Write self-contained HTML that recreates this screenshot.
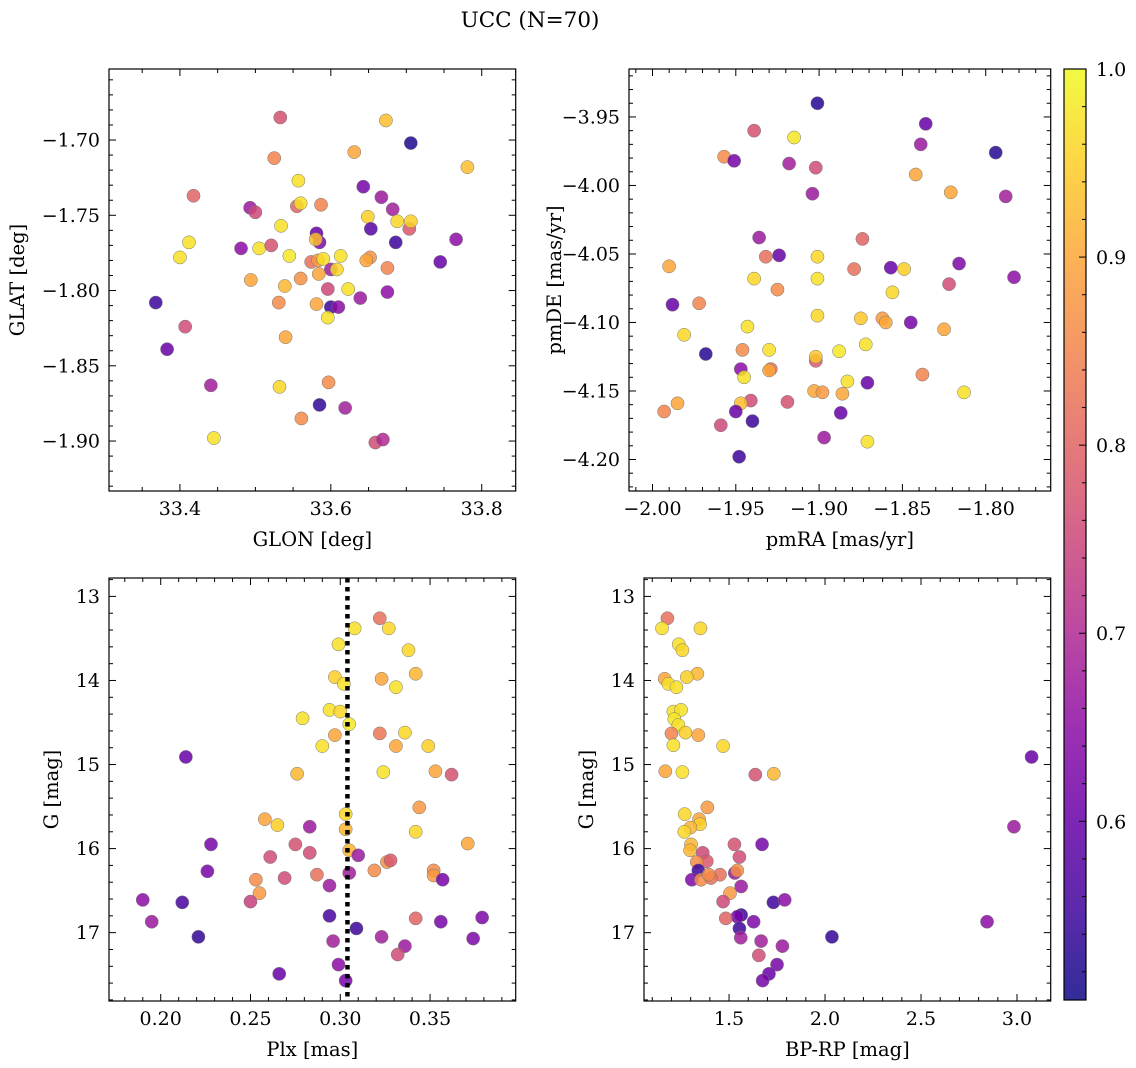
<!DOCTYPE html>
<html><head><meta charset="utf-8"><style>
body{margin:0;background:#fff;}
svg{display:block;font-family:"DejaVu Serif","Liberation Serif",serif;}
</style></head><body>
<svg id="fig" width="1136" height="1068" viewBox="0 0 1136 1068" xmlns="http://www.w3.org/2000/svg">
<defs><linearGradient id="cbg" x1="0" y1="1" x2="0" y2="0"></linearGradient></defs>
<text x="530" y="27" font-size="21.5" text-anchor="middle">UCC (N=70)</text>
</svg>
<script>
// ---- data ----
const glon=[33.533,33.673,33.706,33.525,33.631,33.781,33.557,33.418,33.643,33.667,33.682,33.493,33.500,33.555,33.560,33.587,33.649,33.688,33.704,33.706,33.534,33.653,33.581,33.585,33.580,33.686,33.766,33.412,33.400,33.481,33.505,33.521,33.545,33.574,33.583,33.590,33.613,33.652,33.647,33.745,33.600,33.608,33.675,33.584,33.494,33.560,33.539,33.596,33.623,33.675,33.368,33.531,33.581,33.639,33.600,33.610,33.596,33.407,33.383,33.540,33.441,33.532,33.597,33.585,33.619,33.561,33.445,33.659,33.669];
const glat=[-1.685,-1.687,-1.702,-1.712,-1.708,-1.718,-1.727,-1.737,-1.731,-1.738,-1.746,-1.745,-1.748,-1.744,-1.742,-1.743,-1.751,-1.754,-1.759,-1.754,-1.757,-1.759,-1.762,-1.768,-1.766,-1.768,-1.766,-1.768,-1.778,-1.772,-1.772,-1.770,-1.777,-1.781,-1.780,-1.779,-1.777,-1.778,-1.780,-1.781,-1.786,-1.786,-1.785,-1.789,-1.793,-1.792,-1.797,-1.799,-1.799,-1.801,-1.808,-1.808,-1.809,-1.805,-1.811,-1.811,-1.818,-1.824,-1.839,-1.831,-1.863,-1.864,-1.861,-1.876,-1.878,-1.885,-1.898,-1.901,-1.899];
const prob1=[.77,.93,.52,.85,.9,.93,.97,.8,.62,.67,.68,.67,.75,.8,.97,.85,.95,.96,.78,.95,.97,.58,.6,.63,.93,.55,.65,.97,.97,.65,.97,.77,.98,.82,.88,.97,.97,.87,.9,.6,.68,.96,.85,.9,.9,.87,.92,.75,.97,.65,.55,.86,.9,.67,.55,.65,.97,.76,.6,.9,.68,.96,.86,.54,.68,.86,.97,.76,.7];
const pmra=[-1.901,-1.836,-1.939,-1.915,-1.839,-1.794,-1.957,-1.951,-1.918,-1.902,-1.842,-1.821,-1.904,-1.788,-1.936,-1.874,-1.924,-1.932,-1.901,-1.990,-1.879,-1.857,-1.849,-1.816,-1.939,-1.901,-1.925,-1.856,-1.822,-1.783,-1.988,-1.972,-1.901,-1.875,-1.862,-1.860,-1.845,-1.981,-1.943,-1.825,-1.968,-1.946,-1.930,-1.888,-1.872,-1.902,-1.902,-1.947,-1.929,-1.930,-1.945,-1.883,-1.871,-1.838,-1.903,-1.898,-1.886,-1.813,-1.993,-1.985,-1.941,-1.947,-1.950,-1.919,-1.940,-1.887,-1.959,-1.897,-1.871,-1.948];
const pmde=[-3.940,-3.955,-3.960,-3.965,-3.970,-3.976,-3.979,-3.982,-3.984,-3.987,-3.992,-4.005,-4.006,-4.008,-4.038,-4.039,-4.051,-4.052,-4.052,-4.059,-4.061,-4.060,-4.061,-4.057,-4.068,-4.068,-4.076,-4.078,-4.072,-4.067,-4.087,-4.086,-4.095,-4.097,-4.097,-4.100,-4.100,-4.109,-4.103,-4.105,-4.123,-4.120,-4.120,-4.121,-4.116,-4.128,-4.125,-4.134,-4.134,-4.135,-4.140,-4.143,-4.144,-4.138,-4.150,-4.151,-4.152,-4.151,-4.165,-4.159,-4.157,-4.159,-4.165,-4.158,-4.172,-4.166,-4.175,-4.184,-4.187,-4.198];
const prob2=[.53,.6,.77,.98,.67,.53,.86,.62,.68,.76,.9,.9,.67,.68,.67,.8,.6,.82,.96,.9,.82,.6,.95,.63,.96,.97,.86,.96,.76,.65,.6,.85,.96,.94,.88,.9,.62,.96,.97,.9,.53,.86,.97,.98,.97,.78,.94,.65,.82,.9,.97,.97,.6,.85,.9,.88,.9,.97,.85,.9,.76,.93,.6,.77,.55,.6,.75,.67,.97,.55];
const plx=[.322,.308,.327,.299,.338,.323,.342,.297,.302,.331,.294,.300,.305,.279,.297,.322,.336,.290,.331,.349,.214,.276,.324,.353,.362,.344,.303,.258,.265,.283,.303,.342,.228,.275,.283,.261,.305,.310,.371,.326,.328,.226,.253,.269,.287,.305,.319,.352,.352,.357,.294,.255,.190,.212,.250,.195,.294,.309,.342,.356,.379,.221,.296,.323,.336,.374,.332,.299,.266,.303];
const gmag3=[13.26,13.38,13.38,13.57,13.64,13.98,13.92,13.96,14.04,14.08,14.35,14.37,14.52,14.45,14.65,14.63,14.62,14.78,14.78,14.78,14.91,15.11,15.09,15.08,15.12,15.51,15.59,15.65,15.72,15.74,15.77,15.80,15.95,15.95,16.05,16.10,16.02,16.08,15.94,16.16,16.14,16.27,16.37,16.35,16.31,16.29,16.26,16.26,16.32,16.37,16.44,16.53,16.61,16.64,16.63,16.87,16.80,16.95,16.83,16.87,16.82,17.05,17.10,17.05,17.16,17.07,17.26,17.38,17.49,17.57];
const prob3=[.82,.97,.96,.97,.96,.9,.92,.95,.97,.97,.97,.96,.98,.97,.9,.83,.96,.97,.9,.95,.6,.92,.97,.9,.77,.88,.96,.9,.95,.67,.92,.96,.62,.77,.76,.76,.92,.67,.9,.87,.78,.62,.86,.76,.82,.68,.86,.86,.88,.62,.67,.88,.65,.56,.74,.67,.56,.55,.8,.62,.63,.54,.68,.68,.67,.63,.76,.65,.6,.62];
const plxRef=[0.304];
const bprp=[1.179,1.151,1.351,1.238,1.257,1.165,1.335,1.280,1.184,1.226,1.210,1.250,1.215,1.236,1.200,1.273,1.340,1.210,1.469,3.076,1.168,1.257,1.637,1.733,1.387,1.269,1.344,1.349,1.299,1.267,2.984,1.302,1.528,1.672,1.297,1.363,1.554,1.384,1.332,1.340,1.530,1.543,1.453,1.306,1.354,1.406,1.394,1.563,1.505,1.469,1.731,1.790,1.563,1.543,1.483,1.628,2.844,1.554,2.036,1.561,1.667,1.778,1.655,1.750,1.708,1.675];
const gmag4=[13.26,13.38,13.38,13.57,13.64,13.98,13.92,13.96,14.04,14.08,14.37,14.35,14.46,14.53,14.63,14.62,14.65,14.77,14.78,14.91,15.08,15.09,15.12,15.11,15.51,15.59,15.65,15.71,15.75,15.80,15.74,15.95,15.95,15.95,16.02,16.05,16.10,16.15,16.16,16.26,16.29,16.26,16.31,16.37,16.37,16.35,16.31,16.45,16.53,16.63,16.64,16.61,16.79,16.81,16.83,16.87,16.87,16.95,17.05,17.06,17.10,17.16,17.27,17.38,17.49,17.57];
const prob4=[.82,.97,.96,.97,.96,.9,.92,.95,.97,.97,.97,.97,.98,.97,.85,.95,.9,.97,.96,.6,.9,.97,.77,.92,.88,.96,.9,.95,.92,.96,.67,.92,.77,.62,.92,.75,.76,.78,.86,.55,.67,.87,.82,.63,.86,.82,.86,.67,.88,.75,.55,.65,.55,.62,.8,.63,.65,.55,.54,.68,.68,.67,.76,.62,.6,.62];
const cbTicks=[0.6,0.7,0.8,0.9,1.0];
const vmin=0.505, vmax=1.0;

const NS="http://www.w3.org/2000/svg";
const svg=document.getElementById('fig');
const TICKFS=19, LABFS=19.5;
const plasma=["#0d0887","#41049d","#6a00a8","#8f0da4","#b12a90","#cc4778","#e16462","#f2844b","#fca636","#fcce25","#f0f921"];
function hex(h){return [1,3,5].map(i=>parseInt(h.substr(i,2),16));}
function cmap(v){let t=(v-vmin)/(vmax-vmin);t=Math.max(0,Math.min(1,t))*10;const i=Math.min(9,Math.floor(t)),f=t-i;const a=hex(plasma[i]),b=hex(plasma[i+1]);return 'rgb('+a.map((c,k)=>Math.round(c+(b[k]-c)*f)).join(',')+')';}
function mk(tag,attrs,parent){const e=document.createElementNS(NS,tag);for(const k in attrs)e.setAttribute(k,attrs[k]);(parent||svg).appendChild(e);return e;}
function fmt(v,d){const s=Math.abs(v).toFixed(d);return (v<-1e-9?'\u2212':'')+s;}

function panel(o){
  const g=mk('g',{});
  
  
  const sx=v=>o.x0+(v-o.xa)/(o.xb-o.xa)*(o.x1-o.x0);
  const sy=o.yinv?(v=>o.y0+(v-o.ya)/(o.yb-o.ya)*(o.y1-o.y0)):(v=>o.y1-(v-o.ya)/(o.yb-o.ya)*(o.y1-o.y0));
  for(let i=0;i<o.xs.length;i++){
    const c=mk('circle',{cx:sx(o.xs[i]),cy:sy(o.ys[i]),r:6.6,fill:cmap(o.cs[i]),'fill-opacity':0.85,stroke:'#777','stroke-width':0.5},g);
    
    
  }
  if(o.vline){const l=mk('line',{x1:sx(o.vline),x2:sx(o.vline),y1:o.y0,y2:o.y1,stroke:'#000','stroke-width':4.5,'stroke-dasharray':'4.5 4.5'},g);
    
    }
  const tk=mk('g',{stroke:'#000','stroke-width':1},g);
  
  
  const eps=1e-9;
  for(let v=Math.ceil(o.xa/o.xmin-eps)*o.xmin;v<=o.xb+eps;v+=o.xmin){
    const major=Math.abs(v/o.xmaj-Math.round(v/o.xmaj))<1e-6, L=major?7:4, x=sx(v);
    if(x<o.x0+0.5||x>o.x1-0.5)continue;
    mk('line',{x1:x,x2:x,y1:o.y1,y2:o.y1-L},tk);mk('line',{x1:x,x2:x,y1:o.y0,y2:o.y0+L},tk);
    if(major){const t=mk('text',{x:x,y:o.y1+24,'font-size':TICKFS,'text-anchor':'middle',stroke:'none'},g);t.textContent=fmt(Math.round(v/o.xmaj)*o.xmaj,o.xd);
      }
  }
  for(let v=Math.ceil(Math.min(o.ya,o.yb)/o.ymin-eps)*o.ymin;v<=Math.max(o.ya,o.yb)+eps;v+=o.ymin){
    const major=Math.abs(v/o.ymaj-Math.round(v/o.ymaj))<1e-6, L=major?7:4, y=sy(v);
    if(y<o.y0+0.5||y>o.y1-0.5)continue;
    mk('line',{x1:o.x0,x2:o.x0+L,y1:y,y2:y},tk);mk('line',{x1:o.x1,x2:o.x1-L,y1:y,y2:y},tk);
    if(major){const t=mk('text',{x:o.x0-9,y:y+6.5,'font-size':TICKFS,'text-anchor':'end'},g);t.textContent=fmt(Math.round(v/o.ymaj)*o.ymaj,o.yd);
      }
  }
  const fr=mk('rect',{x:o.x0,y:o.y0,width:o.x1-o.x0,height:o.y1-o.y0,fill:'none',stroke:'#000','stroke-width':1.2},g);
  
  const xl=mk('text',{x:(o.x0+o.x1)/2,y:o.y1+55,'font-size':LABFS,'text-anchor':'middle'},g);xl.textContent=o.xlabel;
  
  const yx=o.ylx, yy=(o.y0+o.y1)/2;
  const yl=mk('text',{x:yx,y:yy,'font-size':LABFS,'text-anchor':'middle',transform:'rotate(-90 '+yx+' '+yy+')'},g);yl.textContent=o.ylabel;
  
}

panel({name:'glon-glat-panel',xs:glon,ys:glat,cs:prob1,x0:109,x1:515.7,y0:69,y1:491,xa:33.306,xb:33.845,ya:-1.9332,yb:-1.6528,xmaj:0.2,xmin:0.05,ymaj:0.05,ymin:0.01,xd:1,yd:2,xlabel:'GLON [deg]',ylabel:'GLAT [deg]',ylx:24});
panel({name:'pm-panel',xs:pmra,ys:pmde,cs:prob2,x0:629,x1:1050.7,y0:69,y1:491,xa:-2.0141,xb:-1.761,ya:-4.223,yb:-3.915,xmaj:0.05,xmin:0.01,ymaj:0.05,ymin:0.01,xd:2,yd:2,xlabel:'pmRA [mas/yr]',ylabel:'pmDE [mas/yr]',ylx:561});
panel({name:'plx-g-panel',xs:plx,ys:gmag3,cs:prob3,x0:109,x1:515.7,y0:578,y1:1001,xa:0.1712,xb:0.3977,ya:12.781,yb:17.813,yinv:true,xmaj:0.05,xmin:0.01,ymaj:1,ymin:0.2,xd:2,yd:0,xlabel:'Plx [mas]',ylabel:'G [mag]',ylx:58,vline:plxRef[0]});
panel({name:'cmd-panel',xs:bprp,ys:gmag4,cs:prob4,x0:644,x1:1050.7,y0:578,y1:1001,xa:1.057,xb:3.1755,ya:12.781,yb:17.813,yinv:true,xmaj:0.5,xmin:0.1,ymaj:1,ymin:0.2,xd:1,yd:0,xlabel:'BP-RP [mag]',ylabel:'G [mag]',ylx:593});

const grad=document.getElementById('cbg');
for(let i=0;i<=10;i++)mk('stop',{offset:(i/10),'stop-color':plasma[i]},grad);
const cb=mk('g',{});


const cbx0=1064,cbx1=1086,cby0=69,cby1=1000;
const cy=v=>cby1-(v-vmin)/(vmax-vmin)*(cby1-cby0);
mk('rect',{x:cbx0,y:cby0,width:cbx1-cbx0,height:cby1-cby0,fill:'url(#cbg)','fill-opacity':0.85,stroke:'#000','stroke-width':1.2},cb);
for(let v=0.52;v<=1.0001;v+=0.02){const y=cy(v);const major=Math.abs(v*10-Math.round(v*10))<1e-6;mk('line',{x1:cbx1,x2:cbx1-(major?7:4),y1:y,y2:y,stroke:'#000','stroke-width':1},cb);}
for(const v of cbTicks){const t=mk('text',{x:1096,y:cy(v)+7,'font-size':TICKFS},cb);t.textContent=v.toFixed(1);
  }
</script>
</body></html>
